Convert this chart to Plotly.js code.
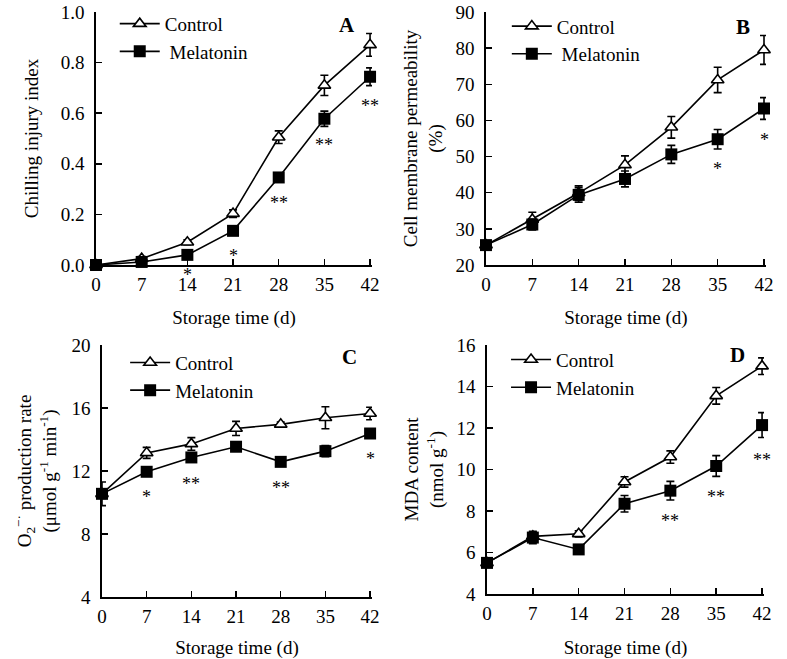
<!DOCTYPE html>
<html>
<head>
<meta charset="utf-8">
<script src="https://cdn.plot.ly/plotly-3.0.1.min.js"></script>
<style>html,body{margin:0;padding:0;background:#fff;}#chart{width:787px;height:659px;}</style>
</head>
<body>
<div id="chart"></div>
<script>
// ---- data ----
const days = [0, 7, 14, 21, 28, 35, 42];
const dayLabels = ["0", "7", "14", "21", "28", "35", "42"];

// A: Chilling injury index
const ciControl = [0.0, 0.025, 0.09, 0.203, 0.505, 0.71, 0.87];
const ciControlErr = [0.005, 0.008, 0.01, 0.015, 0.025, 0.04, 0.045];
const ciMelatonin = [0.0, 0.012, 0.04, 0.135, 0.346, 0.578, 0.744];
const ciMelatoninErr = [0.005, 0.006, 0.01, 0.01, 0.012, 0.03, 0.035];
const ciStars = ["", "", "*", "*", "**", "**", "**"];
const ciStarY = [null, null, 0.0, 0.05, 0.262, 0.49, 0.645];

// B: Cell membrane permeability (%)
const cmControl = [25.5, 32.6, 39.9, 47.7, 58.1, 71.2, 79.5];
const cmControlErr = [0.8, 2.0, 2.0, 2.5, 3.0, 3.5, 4.0];
const cmMelatonin = [25.5, 31.2, 39.4, 43.8, 50.6, 54.8, 63.3];
const cmMelatoninErr = [0.8, 1.5, 2.0, 2.2, 2.5, 2.7, 3.0];
const cmStars = ["", "", "", "", "", "*", "*"];
const cmStarY = [null, null, null, null, null, 47.6, 55.6];

// C: O2- production rate
const o2Control = [10.55, 13.15, 13.72, 14.7, 14.96, 15.38, 15.65];
const o2ControlErr = [0.75, 0.35, 0.4, 0.45, 0.15, 0.7, 0.4];
const o2Melatonin = [10.55, 11.95, 12.86, 13.54, 12.58, 13.26, 14.38];
const o2MelatoninErr = [0.3, 0.2, 0.25, 0.2, 0.2, 0.35, 0.2];
const o2Stars = ["", "*", "**", "", "**", "", "*"];
const o2StarY = [null, 10.6, 11.4, null, 11.15, null, 13.0];

// D: MDA content
const mdaControl = [5.5, 6.78, 6.9, 9.4, 10.6, 13.55, 14.98];
const mdaControlErr = [0.2, 0.2, 0.15, 0.25, 0.3, 0.4, 0.4];
const mdaMelatonin = [5.5, 6.72, 6.15, 8.35, 8.98, 10.17, 12.14];
const mdaMelatoninErr = [0.2, 0.3, 0.2, 0.4, 0.45, 0.5, 0.6];
const mdaStars = ["", "", "", "", "**", "**", "**"];
const mdaStarY = [null, null, null, null, 7.7, 8.85, 10.65];

const seriesNames = ["Control", "Melatonin"];
const panelLetters = ["A", "B", "C", "D"];

// ---- styling ----
const FONT = "Liberation Serif, Times New Roman, serif";
const traces = [];
const panels = [
  {c: ciControl, ce: ciControlErr, m: ciMelatonin, me: ciMelatoninErr, s: ciStars, sy: ciStarY},
  {c: cmControl, ce: cmControlErr, m: cmMelatonin, me: cmMelatoninErr, s: cmStars, sy: cmStarY},
  {c: o2Control, ce: o2ControlErr, m: o2Melatonin, me: o2MelatoninErr, s: o2Stars, sy: o2StarY},
  {c: mdaControl, ce: mdaControlErr, m: mdaMelatonin, me: mdaMelatoninErr, s: mdaStars, sy: mdaStarY}
];
const annotations = [];
panels.forEach((p, i) => {
  const sfx = i === 0 ? "" : String(i + 1);
  const leg = "legend" + sfx;
  const xa = "x" + sfx, ya = "y" + sfx;
  traces.push({
    x: days, y: p.c, xaxis: xa, yaxis: ya, type: "scatter", mode: "lines+markers",
    name: seriesNames[0], legend: leg, cliponaxis: false,
    line: {color: "black", width: 1.6},
    marker: {symbol: "triangle-up", size: 11, color: "white", line: {color: "black", width: 1.6}},
    error_y: {type: "data", array: p.ce, visible: true, color: "black", thickness: 1.6, width: 4}
  });
  traces.push({
    x: days, y: p.m, xaxis: xa, yaxis: ya, type: "scatter", mode: "lines+markers",
    name: (i < 2 ? " " : "") + seriesNames[1], legend: leg, cliponaxis: false,
    line: {color: "black", width: 1.6},
    marker: {symbol: "square", size: 12, color: "black"},
    error_y: {type: "data", array: p.me, visible: true, color: "black", thickness: 1.6, width: 4}
  });
  p.s.forEach((t, k) => {
    if (t) annotations.push({xref: xa, yref: ya, x: days[k], y: p.sy[k], text: t, showarrow: false,
      yshift: (p.sy[k] === 0 ? -10 : -4),
      font: {family: FONT, size: 18, color: "black"}});
  });
});

const labelPos = [[0.909, 0.95], [0.918, 0.94], [0.918, 0.954], [0.906, 0.96]];
panelLetters.forEach((L, i) => {
  const sfx = i === 0 ? "" : String(i + 1);
  annotations.push({xref: "x" + sfx + " domain", yref: "y" + sfx + " domain", x: labelPos[i][0], y: labelPos[i][1],
    xanchor: "center", yanchor: "middle",
    text: "<b>" + L + "</b>", showarrow: false, font: {family: FONT, size: 21, color: "black"}});
});

function xaxis(domain, anchor, labelOff, titleOff) {
  return {domain: domain, anchor: anchor, range: [0, 42.3], tickvals: days, ticktext: dayLabels,
    ticks: "inside", ticklen: 6, tickwidth: 1.5, tickcolor: "black", showline: true, linewidth: 1.6, linecolor: "black",
    showgrid: false, zeroline: false, tickfont: {family: FONT, size: 19, color: "black"}, ticklabelstandoff: labelOff,
    title: {text: "Storage time (d)", font: {family: FONT, size: 19, color: "black"}, standoff: titleOff}};
}
function yaxis(domain, anchor, range, dtick, fmt, title, standoff) {
  return {domain: domain, anchor: anchor, range: range, dtick: dtick, tickformat: fmt,
    ticks: "inside", ticklen: 6, tickwidth: 1.5, tickcolor: "black", showline: true, linewidth: 1.6, linecolor: "black",
    showgrid: false, zeroline: false, tickfont: {family: FONT, size: 19, color: "black"}, ticklabelstandoff: 6,
    title: {text: title, font: {family: FONT, size: 19, color: "black"}, standoff: standoff}};
}
function legend(x, y) {
  return {x: x, y: y, xanchor: "left", yanchor: "top", bgcolor: "rgba(0,0,0,0)", itemwidth: 40,
    font: {family: FONT, size: 19, color: "black"}, tracegroupgap: 0};
}

const layout = {
  width: 787, height: 659, margin: {l: 0, r: 0, t: 0, b: 0},
  paper_bgcolor: "white", plot_bgcolor: "white", showlegend: true,
  xaxis: xaxis([0.1220, 0.4727], "y", 2, 16),
  yaxis: yaxis([0.5979, 0.9818], "x", [0, 1.0], 0.2, ".1f", "Chilling injury index", 17),
  xaxis2: xaxis([0.6175, 0.9733], "y2", 2, 16),
  yaxis2: yaxis([0.5979, 0.9818], "x2", [20, 90], 10, "", "Cell membrane permeability<br>(%)", 8),
  xaxis3: xaxis([0.1296, 0.4727], "y3", 2, 18),
  yaxis3: yaxis([0.0941, 0.4765], "x3", [4, 20], 4, "", "O<sub>2</sub><sup>−·</sup> production rate<br>(μmol g<sup>-1</sup> min<sup>-1</sup>)", 10),
  xaxis4: xaxis([0.6188, 0.9708], "y4", 2, 18),
  yaxis4: yaxis([0.0986, 0.4765], "x4", [4, 16], 2, "", "MDA content<br>(nmol g<sup>-1</sup>)", 8),
  legend: legend(0.1458, 0.9927),
  legend2: legend(0.644, 0.989),
  legend3: legend(0.159, 0.4786),
  legend4: legend(0.643, 0.483),
  annotations: annotations
};

Plotly.newPlot("chart", traces, layout, {displayModeBar: false, staticPlot: true});
</script>
</body>
</html>
